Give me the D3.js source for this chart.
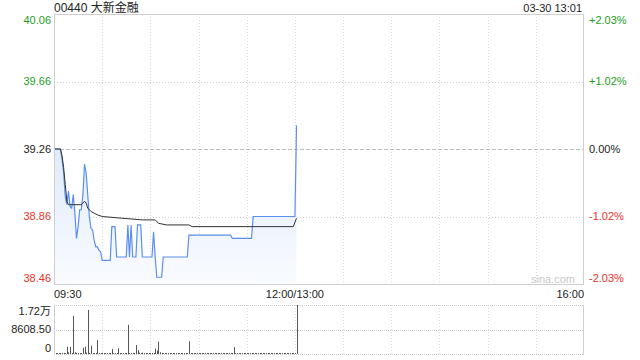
<!DOCTYPE html>
<html>
<head>
<meta charset="utf-8">
<script src="https://cdn.jsdelivr.net/npm/d3@7"></script>
<style>
body { margin: 0; background: #fff; }
svg { display: block; font-family: "Liberation Sans", Arial, "Noto Sans CJK SC", sans-serif; }
</style>
</head>
<body>
<div id="chart"></div>
<script>
// price line (blue), time -> price
var priceTimes = ["09:30","09:34","09:35","09:36","09:37","09:38","09:39","09:40","09:41","09:42","09:43","09:44",
    "09:45","09:46","09:47","09:48","09:49","09:50","09:51","09:52","09:53","09:54","09:55","09:56","09:57","09:58",
    "09:59","10:00","10:05","10:06","10:08","10:09","10:15","10:16","10:17","10:18","10:19","10:21","10:22","10:24",
    "10:25","10:31","10:32","10:33","10:34","10:37","10:38","10:53","10:54","11:20","11:21","11:33","11:34","11:59",
    "12:00","13:01"]
var prices = [39.26,39.26,39.20,39.12,38.98,38.93,39.01,38.92,38.91,38.99,38.88,38.73,
    38.80,38.90,38.90,38.99,39.17,39.12,38.99,38.86,38.79,38.78,38.72,38.68,38.68,38.66,
    38.65,38.60,38.60,38.80,38.80,38.62,38.62,38.81,38.62,38.81,38.62,38.62,38.81,38.81,
    38.62,38.62,38.77,38.62,38.50,38.50,38.62,38.62,38.75,38.75,38.73,38.73,38.86,38.86,
    38.86,39.40]

// average price line (black)
var avgTimes = ["09:30","09:34","09:35","09:36","09:37","09:38","09:39","09:47","09:49","09:50","09:51","09:53",
    "09:57","10:00","10:12","10:25","10:33","10:35","10:40","10:54","10:56","11:59","13:01"]
var avgPrices = [39.26,39.26,39.22,39.15,39.05,38.95,38.93,38.93,38.95,38.94,38.91,38.89,
    38.87,38.86,38.85,38.84,38.84,38.82,38.81,38.81,38.80,38.80,38.85]

// volume per minute from 09:30 (index 0) to 13:01 (index 151)
var volumes = [300,200,200,300,200,300,400,300,2550,600,2500,300,13400,600,400,200,300,200,2200,2550,
    500,15500,400,2900,300,200,400,4900,200,300,400,200,200,0,200,200,1750,200,0,200,
    2000,200,0,200,300,200,10250,300,200,400,200,3150,1350,500,200,500,200,0,200,0,
    200,300,300,1900,1200,4300,600,200,0,200,0,200,0,200,0,200,0,200,0,0,
    200,0,200,0,4500,200,0,0,200,0,0,0,200,0,0,0,0,200,0,0,
    0,200,0,0,0,0,200,0,0,0,0,0,2400,0,0,200,0,0,0,0,
    200,0,0,0,0,0,0,0,300,0,0,0,0,0,0,0,0,0,300,0,
    0,0,0,0,0,0,0,0,0,0,0,17217]

var priceTicks = [40.06, 39.66, 39.26, 38.86, 38.46]
var pctLabels = ["+2.03%", "+1.02%", "0.00%", "-1.02%", "-2.03%"]
var volTicks = [17217, 8608.5, 0]
var volLabels = ["1.72万", "8608.50", "0"]
var prevClose = 39.26

var width = 640, height = 360
var pLeft = 54, pRight = 584, pTop = 14, pBottom = 284
var vTop = 305, vBottom = 354
var green = "#1e9e1e", red = "#e8322a"

var svg = d3.select("#chart").append("svg").attr("width", width).attr("height", height)

// trading minutes: 09:30-12:00 then 13:00-16:00
function toMin(t) {
    var p = t.split(":"), m = +p[0] * 60 + +p[1]
    return m >= 780 ? m - 780 + 150 : m - 570
}

var x = d3.scaleLinear().domain([0, 330]).range([pLeft, pRight])
var y = d3.scaleLinear().domain([38.46, 40.06]).range([pBottom, pTop])
var yv = d3.scaleLinear().domain([0, 17217]).range([vBottom, vTop])

function colorOf(v) { return v > prevClose + 1e-6 ? green : (v < prevClose - 1e-6 ? red : "#222") }

// vertical grid, every 30 minutes
var vlines = d3.range(30, 330, 30)
svg.selectAll(".vg").data(vlines).enter().append("line")
    .attr("x1", d => Math.round(x(d)) + 0.5).attr("x2", d => Math.round(x(d)) + 0.5)
    .attr("y1", pTop).attr("y2", pBottom)
    .attr("stroke", "#d8d8d8").attr("stroke-dasharray", "1,2")
svg.selectAll(".vg2").data(vlines).enter().append("line")
    .attr("x1", d => Math.round(x(d)) + 0.5).attr("x2", d => Math.round(x(d)) + 0.5)
    .attr("y1", vTop).attr("y2", vBottom)
    .attr("stroke", "#d8d8d8").attr("stroke-dasharray", "1,2")

// horizontal grid (price)
svg.selectAll(".hg").data(priceTicks.slice(1, 4)).enter().append("line")
    .attr("x1", pLeft).attr("x2", pRight)
    .attr("y1", d => Math.round(y(d)) + 0.5).attr("y2", d => Math.round(y(d)) + 0.5)
    .attr("stroke", d => d == prevClose ? "#bbb" : "#d0d0d0")
    .attr("stroke-dasharray", d => d == prevClose ? "4,2" : "1,2")

// volume grid
svg.selectAll(".vh").data(volTicks).enter().append("line")
    .attr("x1", pLeft).attr("x2", pRight)
    .attr("y1", d => Math.round(yv(d)) + 0.5).attr("y2", d => Math.round(yv(d)) + 0.5)
    .attr("stroke", "#c8c8c8").attr("stroke-dasharray", "1,1")

// area under price
var defs = svg.append("defs")
var grad = defs.append("linearGradient").attr("id", "fillGrad").attr("x1", 0).attr("y1", 0).attr("x2", 0).attr("y2", 1)
grad.append("stop").attr("offset", "0%").attr("stop-color", "#dde8f8")
grad.append("stop").attr("offset", "100%").attr("stop-color", "#f9fbff")

var pts = priceTimes.map((t, i) => ({ m: toMin(t), v: prices[i] }))
var avgPts = avgTimes.map((t, i) => ({ m: toMin(t), v: avgPrices[i] }))

svg.append("path").datum(pts)
    .attr("fill", "url(#fillGrad)")
    .attr("d", d3.area().x(d => x(d.m)).y0(pBottom).y1(d => y(d.v)))

svg.append("path").datum(pts)
    .attr("fill", "none").attr("stroke", "#5a8ff0").attr("stroke-width", 1.2)
    .attr("d", d3.line().x(d => x(d.m)).y(d => y(d.v)))

svg.append("path").datum(avgPts)
    .attr("fill", "none").attr("stroke", "#333").attr("stroke-width", 1)
    .attr("d", d3.line().x(d => x(d.m)).y(d => y(d.v)))

// volume bars
svg.selectAll(".vb").data(volumes).enter().append("rect")
    .attr("x", (d, i) => Math.round(x(i)))
    .attr("width", 1)
    .attr("y", d => Math.min(yv(d), vBottom - 1))
    .attr("height", d => Math.max(1, vBottom - yv(d)))
    .attr("fill", "#555")

// frames
svg.append("rect").attr("x", pLeft + 0.5).attr("y", pTop + 0.5).attr("width", pRight - pLeft - 1).attr("height", pBottom - pTop)
    .attr("fill", "none").attr("stroke", "#cfcfcf")
svg.append("line").attr("x1", pLeft + 0.5).attr("x2", pLeft + 0.5).attr("y1", vTop).attr("y2", vBottom + 1).attr("stroke", "#cfcfcf")
svg.append("line").attr("x1", pRight - 0.5).attr("x2", pRight - 0.5).attr("y1", vTop).attr("y2", vBottom + 1).attr("stroke", "#cfcfcf")

// watermark
svg.append("text").attr("x", 553).attr("y", 283).attr("text-anchor", "middle")
    .attr("font-size", 11).attr("fill", "#c8c8c8").text("sina.com")

// price labels
svg.selectAll(".pl").data(priceTicks).enter().append("text")
    .attr("x", pLeft - 3).attr("y", d => Math.min(Math.max(y(d), 20), 278))
    .attr("dy", "0.35em").attr("text-anchor", "end").attr("font-size", 11)
    .attr("fill", d => colorOf(d)).text(d => d.toFixed(2))

svg.selectAll(".pc").data(priceTicks).enter().append("text")
    .attr("x", pRight + 5).attr("y", d => Math.min(Math.max(y(d), 20), 278))
    .attr("dy", "0.35em").attr("text-anchor", "start").attr("font-size", 11)
    .attr("fill", d => colorOf(d)).text((d, i) => pctLabels[i])

// volume labels
svg.selectAll(".vl").data(volTicks).enter().append("text")
    .attr("x", pLeft - 3).attr("y", d => Math.min(Math.max(yv(d), 311), 348))
    .attr("dy", "0.35em").attr("text-anchor", "end").attr("font-size", 11)
    .attr("fill", "#222").text((d, i) => volLabels[i])

// time labels
var timeLabels = [["09:30", 0, "start"], ["12:00/13:00", 150, "middle"], ["16:00", 330, "end"]]
svg.selectAll(".tl").data(timeLabels).enter().append("text")
    .attr("x", d => x(d[1])).attr("y", 298)
    .attr("text-anchor", d => d[2]).attr("font-size", 11).attr("fill", "#222")
    .text(d => d[0])

// header
svg.append("text").attr("x", pLeft).attr("y", 12).attr("font-size", 12).attr("fill", "#222").text("00440 大新金融")
svg.append("text").attr("x", pRight - 2).attr("y", 12).attr("text-anchor", "end").attr("font-size", 11).attr("fill", "#222").text("03-30 13:01")
</script>
</body>
</html>
